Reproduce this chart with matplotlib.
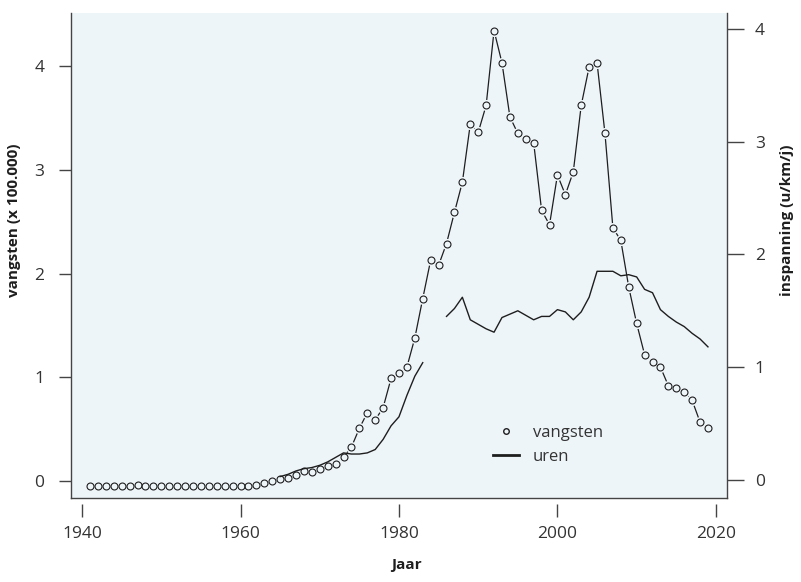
import numpy as np
import matplotlib
matplotlib.use("Agg")
import matplotlib.pyplot as plt
from matplotlib.lines import Line2D

# --- DATA ---
years = list(range(1941, 2020))

# catches (x 100.000), one value per year 1941-2019
vangsten = [
    -0.05, -0.05, -0.05, -0.05, -0.05, -0.05, -0.04, -0.05, -0.05, -0.05,   # 1941-1950
    -0.05, -0.05, -0.05, -0.05, -0.05, -0.05, -0.05, -0.05, -0.05, -0.05,   # 1951-1960
    -0.05, -0.04, -0.02, 0.00, 0.02, 0.03, 0.06, 0.10, 0.09, 0.12,          # 1961-1970
    0.15, 0.17, 0.23, 0.33, 0.51, 0.66, 0.59, 0.71, 0.99, 1.04,             # 1971-1980
    1.10, 1.38, 1.76, 2.13, 2.08, 2.29, 2.59, 2.88, 3.44, 3.36,             # 1981-1990
    3.62, 4.34, 4.03, 3.51, 3.35, 3.30, 3.26, 2.61, 2.47, 2.95,             # 1991-2000
    2.76, 2.98, 3.62, 3.99, 4.03, 3.35, 2.44, 2.32, 1.87, 1.52,             # 2001-2010
    1.22, 1.15, 1.10, 0.92, 0.90, 0.86, 0.78, 0.57, 0.51,                   # 2011-2019
]

# effort (u/km/j), gaps where no data
uren = [
    np.nan, np.nan, np.nan, np.nan, np.nan, np.nan, np.nan, np.nan, np.nan, np.nan,  # 1941-1950
    np.nan, np.nan, np.nan, np.nan, np.nan, np.nan, np.nan, np.nan, np.nan, np.nan,  # 1951-1960
    np.nan, np.nan, np.nan, np.nan, 0.03, 0.05, 0.08, 0.10, 0.11, 0.13,              # 1961-1970
    0.16, 0.20, 0.24, 0.23, 0.23, 0.24, 0.27, 0.36, 0.48, 0.56,                      # 1971-1980
    0.75, 0.92, 1.04, np.nan, np.nan, 1.45, 1.52, 1.62, 1.42, 1.38,                  # 1981-1990
    1.34, 1.31, 1.44, 1.47, 1.50, 1.46, 1.42, 1.45, 1.45, 1.51,                      # 1991-2000
    1.49, 1.42, 1.49, 1.62, 1.85, 1.85, 1.85, 1.81, 1.82, 1.80,                      # 2001-2010
    1.69, 1.66, 1.51, 1.45, 1.40, 1.36, 1.30, 1.25, 1.18,                            # 2011-2019
]

x_ticks = [1940, 1960, 1980, 2000, 2020]
left_ticks = [0, 1, 2, 3, 4]
right_ticks = [0, 1, 2, 3, 4]

# --- STYLE ---
bg = '#EEF5F9'
ink = '#1e1e1e'
txt = '#333333'
plt.rcParams['font.family'] = ['Open Sans', 'DejaVu Sans']

fig = plt.figure(figsize=(8.01, 5.82), dpi=100)
ax1 = fig.add_axes([0.0886, 0.1443, 0.819, 0.8334])
ax1.set_facecolor(bg)

# catches: R-style type="b" (line with gaps around the points)
ax1.plot(years, vangsten, color=ink, lw=0.9, zorder=2)
ax1.plot(years, vangsten, 'o', ms=8.0, mfc=bg, mec='none', zorder=3)
ax1.plot(years, vangsten, 'o', ms=5.0, mfc='none', mec=ink, mew=0.8, zorder=4)

ax1.set_xlim(1938.6, 2021.4)
ax1.set_ylim(-0.161, 4.51)
ax1.set_xticks(x_ticks)
ax1.set_yticks(left_ticks)
ax1.set_yticklabels([str(t) for t in left_ticks])

# effort on second y axis
ax2 = ax1.twinx()
ax2.plot(years, uren, color=ink, lw=1.0, zorder=5)
ax2.set_ylim(-0.16, 4.14)
ax2.set_yticks(right_ticks)
ax2.set_yticklabels([str(t) for t in right_ticks])

for ax in [ax1, ax2]:
    ax.spines['top'].set_visible(False)
    ax.spines['bottom'].set_visible(False)
    for s in ['left', 'right']:
        ax.spines[s].set_color('#444444')
        ax.spines[s].set_linewidth(1.0)

ax1.spines['right'].set_visible(False)
ax2.spines['left'].set_visible(False)

# detached x ticks, frame line at the bottom
ax1.plot([0, 1], [0, 0], transform=ax1.transAxes, color='#444444', lw=1.0, clip_on=False, zorder=6)
ax1.spines['bottom'].set_position(('outward', 4))
ax1.tick_params(axis='x', length=9, width=1, color='#444444', pad=7, labelsize=12.5, labelcolor=txt)
ax1.tick_params(axis='y', length=9, width=1, color='#444444', pad=10, labelsize=12.5, labelcolor=txt)
ax2.tick_params(axis='y', length=12, width=1, color='#444444', pad=8, labelsize=12.5, labelcolor=txt)

# axis titles
fig.text(0.018, 0.622, 'vangsten (x 100.000)', rotation=90, ha='center', va='center',
         fontsize=11, fontweight='bold', color=ink)
fig.text(0.982, 0.622, 'inspanning (u/km/j)', rotation=90, ha='center', va='center',
         fontsize=11, fontweight='bold', color=ink)
fig.text(0.507, 0.029, 'Jaar', ha='center', va='center', fontsize=11, fontweight='bold', color=ink)

# legend
handles = [Line2D([], [], ls='none', marker='o', ms=4.0, mfc='none', mec=ink, mew=1.0),
           Line2D([], [], color=ink, lw=2.0)]
leg = ax2.legend(handles, ['vangsten', 'uren'], loc='upper left', bbox_to_anchor=(0.643, 0.15),
                 frameon=False, fontsize=12, handlelength=1.6, handletextpad=0.8,
                 labelspacing=0.45, borderaxespad=0, borderpad=0)
for t in leg.get_texts():
    t.set_color(txt)

fig.savefig('out.png', dpi=100)
